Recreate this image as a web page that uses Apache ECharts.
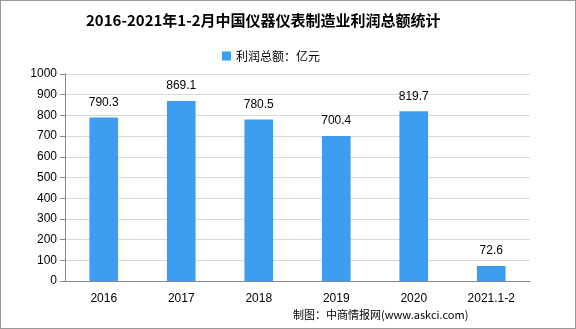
<!DOCTYPE html>
<html><head><meta charset="utf-8">
<script src="https://cdn.jsdelivr.net/npm/echarts@6/dist/echarts.min.js"></script>
<style>html,body{margin:0;padding:0;background:#fff}#c{width:576px;height:329px;box-sizing:border-box;border:1px solid #999}</style>
</head><body><div id="c"></div>
<script>
const categories = ['2016','2017','2018','2019','2020','2021.1-2'];
const profit = [790.3, 869.1, 780.5, 700.4, 819.7, 72.6];
const chart = echarts.init(document.getElementById('c'));
chart.setOption({
  animation:false,
  title:{text:'2016-2021年1-2月中国仪器仪表制造业利润总额统计',left:80,top:7,
    textStyle:{fontSize:15,fontWeight:'bold',color:'#000',fontFamily:'"Noto Sans CJK SC", "DejaVu Serif", serif'}},
  legend:{top:44,left:216,itemWidth:9,itemHeight:9,icon:'rect',itemGap:3,
    textStyle:{fontSize:12,color:'#000',fontFamily:'"Noto Sans CJK SC", sans-serif'}},
  graphic:[{type:'text',left:292,top:308,style:{text:'制图：中商情报网(www.askci.com)',fontSize:11,fill:'#000',fontFamily:'"Noto Sans CJK SC", sans-serif'}}],
  grid:{left:64,right:45,top:73,bottom:47},
  xAxis:{type:'category',data:categories,
    axisLine:{lineStyle:{color:'#888'}},axisTick:{lineStyle:{color:'#888'},length:5},
    axisLabel:{color:'#000',fontSize:12,margin:12,fontFamily:'"Liberation Sans", sans-serif'}},
  yAxis:{type:'value',min:0,max:1000,interval:100,
    axisLine:{show:true,lineStyle:{color:'#888'}},axisTick:{show:true,lineStyle:{color:'#888'},length:5},
    axisLabel:{color:'#000',fontSize:12,margin:8,formatter:function(v){return String(v);},fontFamily:'"Liberation Sans", sans-serif'},
    splitLine:{lineStyle:{color:'#d9d9d9'}}},
  series:[{name:'利润总额：亿元',type:'bar',data:profit,barWidth:'37%',
    itemStyle:{color:'#3d9df0'},
    label:{show:true,position:'top',distance:9,color:'#000',fontSize:12,fontFamily:'"Liberation Sans", sans-serif'}}]
});
</script></body></html>
